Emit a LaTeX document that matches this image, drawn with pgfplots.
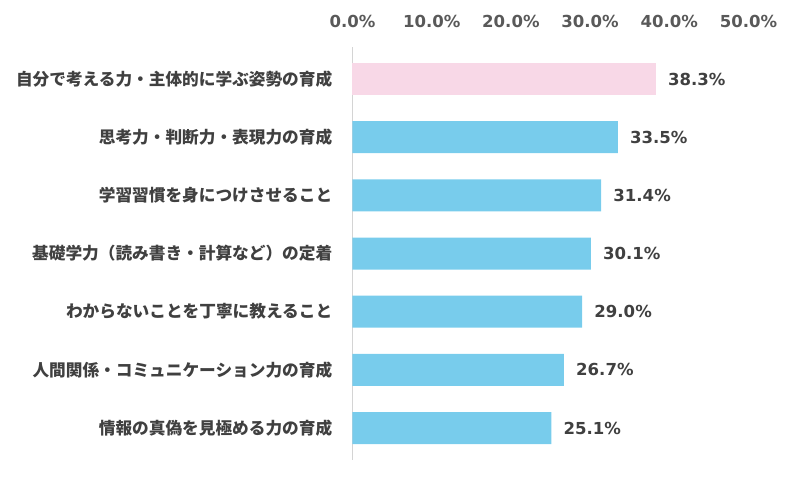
\documentclass[border=0pt]{standalone}
\usepackage{fontspec}
\setmainfont{DejaVu Sans}
\newfontfamily\jp{Noto Sans CJK JP}
\usepackage{pgfplots}
\pgfplotsset{compat=1.18}
\newdimen\px \px=0.75pt
\definecolor{barblue}{HTML}{78CCEC}
\definecolor{barpink}{HTML}{F8D8E7}
\definecolor{txt}{HTML}{404040}
\definecolor{ticktxt}{HTML}{595959}
\begin{document}
\begin{tikzpicture}
\path[use as bounding box] (0,0) rectangle (800\px,480\px);
\begin{axis}[
  at={(352.5\px,20\px)}, anchor=south west,
  scale only axis, width=396\px, height=413\px,
  xmin=0, xmax=50, ymin=-0.55, ymax=6.55,
  y dir=reverse,
  xbar, bar width=32\px, bar shift=0pt,
  axis x line*=top, axis y line*=left,
  x axis line style={draw=none},
  y axis line style={draw=black!17, line width=1\px},
  xtick={0,10,20,30,40,50},
  major tick length=0pt,
  /pgf/number format/assume math mode=true,
  xticklabel={\pgfmathprintnumber[fixed,fixed zerofill,precision=1]{\tick}\%},
  xticklabel style={font=\bfseries\fontsize{12.4}{14}\selectfont, text=ticktxt, anchor=base, inner sep=0pt, yshift=20\px},
  ytick={0,1,2,3,4,5,6},
  yticklabels={自分で考える力・主体的に学ぶ姿勢の育成,思考力・判断力・表現力の育成,学習習慣を身につけさせること,基礎学力（読み書き・計算など）の定着,わからないことを丁寧に教えること,人間関係・コミュニケーション力の育成,情報の真偽を見極める力の育成},
  yticklabel style={font=\jp\bfseries\fontsize{12.5}{14}\selectfont, text=txt, anchor=east, inner sep=0pt, xshift=-20\px},
  point meta=x,
  nodes near coords={\pgfmathprintnumber[fixed,fixed zerofill,precision=1]{\pgfplotspointmeta}\%},
  nodes near coords style={font=\bfseries\fontsize{12.4}{14}\selectfont, text=txt, anchor=west, inner sep=0pt, xshift=12\px},
  clip=false,
]
\addplot[draw=none, fill=barpink] coordinates {(38.3,0)};
\addplot[draw=none, fill=barblue] coordinates {(33.5,1) (31.4,2) (30.1,3) (29.0,4) (26.7,5) (25.1,6)};
\end{axis}
\end{tikzpicture}
\end{document}
